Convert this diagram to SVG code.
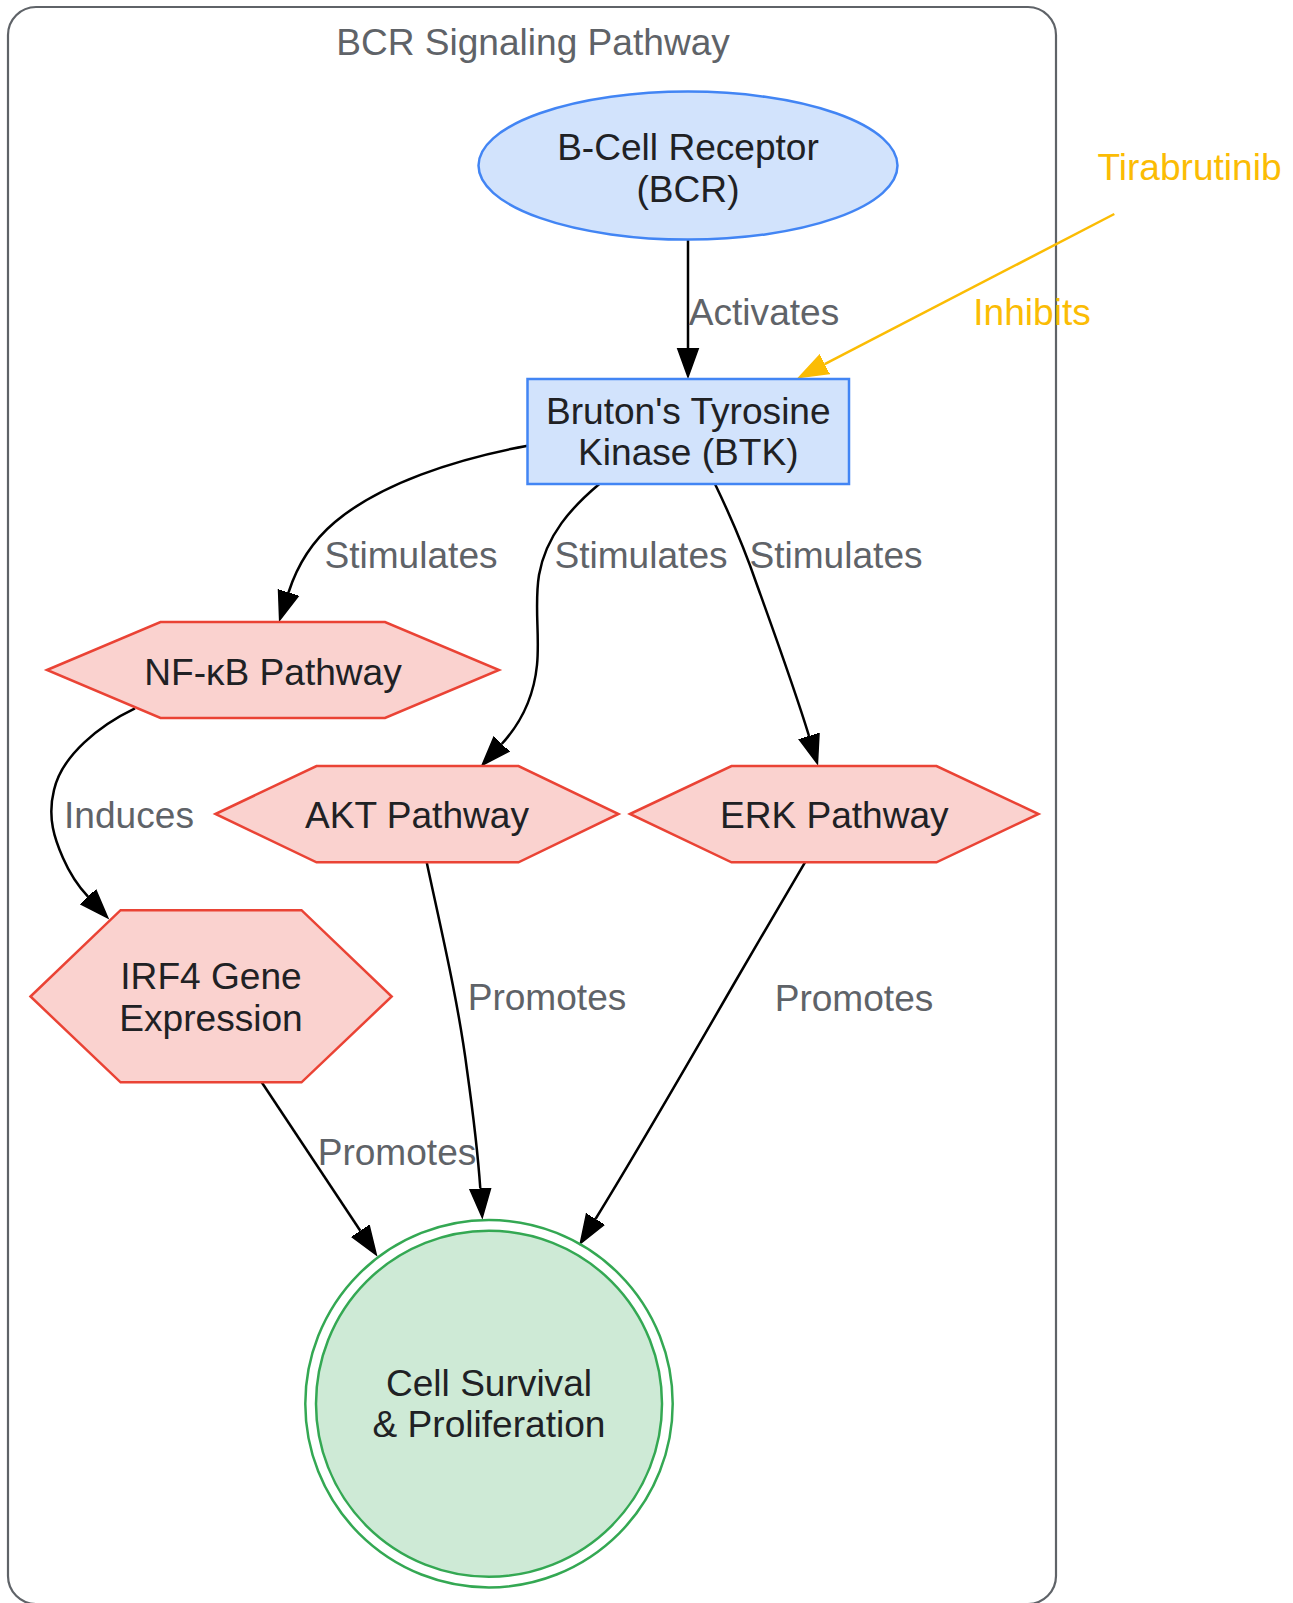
<svg xmlns="http://www.w3.org/2000/svg" width="1293" height="1603" viewBox="0 0 1293 1603">
<style>
text { font-family: "Liberation Sans", Arial, sans-serif; font-size: 37.1px; text-anchor: middle; }
.nl { fill: #202124; }
.el { fill: #5f6368; }
.yl { fill: #fbbc04; }
.blue { fill: #d2e3fc; stroke: #4285f4; stroke-width: 2.5; }
.red { fill: #fad2cf; stroke: #ea4335; stroke-width: 2.5; }
.green { fill: #ceead6; stroke: #34a853; stroke-width: 2.5; }
.edge { fill: none; stroke: #000; stroke-width: 2.5; marker-end: url(#arr); }
.inh { fill: none; stroke: #fbbc04; stroke-width: 2.5; marker-end: url(#arrY); }
</style>
<defs>
<marker id="arr" markerUnits="userSpaceOnUse" viewBox="0 -12 32 24" refX="0" refY="0" markerWidth="32" markerHeight="24" orient="auto">
<path d="M0,-10.5 L29,0 L0,10.5 Z" fill="#000" stroke="#000" stroke-width="1.5"/>
</marker>
<marker id="arrY" markerUnits="userSpaceOnUse" viewBox="0 -12 32 24" refX="0" refY="0" markerWidth="32" markerHeight="24" orient="auto">
<path d="M0,-10.5 L29,0 L0,10.5 Z" fill="#fbbc04" stroke="#fbbc04" stroke-width="1.5"/>
</marker>
</defs>
<rect width="1293" height="1603" fill="#fff"/>
<g id="cluster">
<rect x="8" y="7" width="1048" height="1597" rx="28" ry="28" fill="none" stroke="#5f6368" stroke-width="2.2"/>
<text x="533" y="55" class="el">BCR Signaling Pathway</text>
</g>
<g id="edges">
<path class="edge" d="M688,240 L688,348"/>
<text x="764" y="325" class="el">Activates</text>
<path class="inh" d="M1114.3,214 L824.7,364.2"/>
<text x="1032" y="325" class="yl">Inhibits</text>
<path class="edge" d="M527.7,445.7 C455,459 380,484 335,522 C310,543 297,566 288.5,592.5"/>
<text x="411" y="567.5" class="el">Stimulates</text>
<path class="edge" d="M599.3,484 C572,507 546,535 539,575 C534,605 540,635 537,665 C534,695 522,722 501.7,744"/>
<text x="641" y="568" class="el">Stimulates</text>
<path class="edge" d="M715,484 C730,515 745,550 757,585 C775,635 795,690 809,736"/>
<text x="836" y="568" class="el">Stimulates</text>
<path class="edge" d="M135,708.3 C100,725 62,755 54,790 C47,818 55,840 63,858 C70,874 78,886 88,896.7"/>
<text x="129" y="828" class="el">Induces</text>
<path class="edge" d="M426.7,862.3 C440,925 458,1000 467,1070 C474,1120 478,1155 480.3,1188.5"/>
<text x="547" y="1010" class="el">Promotes</text>
<path class="edge" d="M805,862.3 C785,897 758,942 735,982 C690,1060 635,1155 595.5,1219"/>
<text x="854" y="1010.5" class="el">Promotes</text>
<path class="edge" d="M261.7,1082.3 L360.3,1230.7"/>
<text x="397" y="1165" class="el">Promotes</text>
</g>
<g id="tirabrutinib">
<text x="1189.5" y="180" class="yl">Tirabrutinib</text>
</g>
<g id="bcr">
<ellipse cx="688" cy="165.6" rx="209.5" ry="74" class="blue"/>
<text x="688" y="160" class="nl">B-Cell Receptor</text>
<text x="688" y="202" class="nl">(BCR)</text>
</g>
<g id="btk">
<rect x="527.5" y="379" width="321.5" height="105" class="blue"/>
<text x="688.3" y="423.5" class="nl">Bruton's Tyrosine</text>
<text x="688.3" y="465" class="nl">Kinase (BTK)</text>
</g>
<g id="nfkb">
<polygon points="47,670 160.5,622 385,622 499,670 385,718 160.5,718" class="red"/>
<text x="273" y="684.5" class="nl">NF-κB Pathway</text>
</g>
<g id="akt">
<polygon points="215.5,814 316.5,766 518.5,766 618.5,814 518.5,862.3 316.5,862.3" class="red"/>
<text x="417" y="828.3" class="nl">AKT Pathway</text>
</g>
<g id="erk">
<polygon points="630,814 731.5,766 936.5,766 1038.5,814 936.5,862.3 731.5,862.3" class="red"/>
<text x="834.3" y="828.3" class="nl">ERK Pathway</text>
</g>
<g id="irf4">
<polygon points="30.5,996.5 120.6,910.2 301.5,910.2 391.7,996.5 301.5,1082.3 120.6,1082.3" class="red"/>
<text x="211" y="989" class="nl">IRF4 Gene</text>
<text x="211" y="1031" class="nl">Expression</text>
</g>
<g id="cell">
<circle cx="489" cy="1403.7" r="183.7" fill="none" stroke="#34a853" stroke-width="2.5"/>
<circle cx="489" cy="1403.7" r="173" class="green"/>
<text x="489" y="1396" class="nl">Cell Survival</text>
<text x="489" y="1437.4" class="nl">&amp; Proliferation</text>
</g>
</svg>
